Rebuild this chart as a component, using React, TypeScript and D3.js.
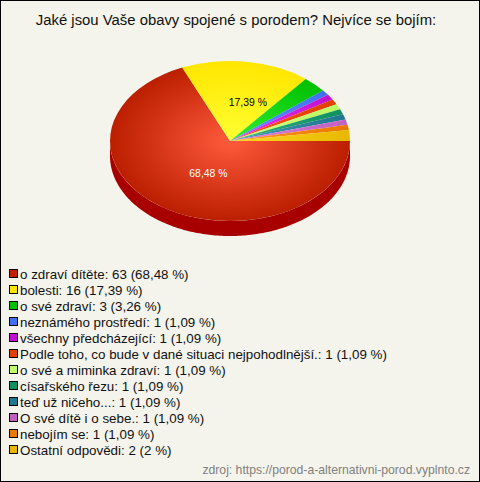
import React, { useEffect, useRef } from 'react';
import * as d3 from 'd3';

const title = 'Jaké jsou Vaše obavy spojené s porodem? Nejvíce se bojím:';
const source = 'zdroj: https://porod-a-alternativni-porod.vyplnto.cz';

const categories = [
  'o zdraví dítěte',
  'bolesti',
  'o své zdraví',
  'neznámého prostředí',
  'všechny předcházející',
  'Podle toho, co bude v dané situaci nejpohodlnější.',
  'o své a miminka zdraví',
  'císařského řezu',
  'teď už ničeho...',
  'O své dítě i o sebe.',
  'nebojím se',
  'Ostatní odpovědi',
];
const counts = [63, 16, 3, 1, 1, 1, 1, 1, 1, 1, 1, 2];
const percents = ['68,48', '17,39', '3,26', '1,09', '1,09', '1,09', '1,09', '1,09', '1,09', '1,09', '1,09', '2'];
const edgeColors = ['#bb1e00', '#ffe600', '#00c000', '#4070f0', '#c010d0', '#e04000', '#b8f860', '#109060', '#207890', '#c060c0', '#e87800', '#e8b800'];
const centerColors = ['#ff5a3c', '#ffff33', '#33ee33', '#6090ff', '#f030f0', '#ff5020', '#d8ff80', '#30b080', '#4098b0', '#e080e0', '#ff9820', '#ffd820'];
const legendColors = ['#c02000', '#ffe600', '#00c000', '#4070f0', '#c010d0', '#e04000', '#c0ff70', '#109060', '#207890', '#c060c0', '#e87800', '#e8b800'];

const App: React.FC = () => {
  const svgRef = useRef<SVGSVGElement>(null);

  useEffect(() => {
    if (!svgRef.current) return;
    document.body.style.margin = '0';

    const width = 480;
    const height = 482;
    const cx = 230;
    const cy = 141;
    const rx = 120;
    const ry = 80;
    const depth = 15;
    const font = '"Liberation Sans", Arial, sans-serif';

    const svg = d3.select(svgRef.current);
    svg.selectAll('*').remove();

    svg.append('rect')
      .attr('x', 0.5)
      .attr('y', 0.5)
      .attr('width', width - 1)
      .attr('height', height - 1)
      .attr('fill', '#f4f4ec')
      .attr('stroke', '#000');

    svg.append('text')
      .attr('x', 236)
      .attr('y', 25)
      .attr('text-anchor', 'middle')
      .attr('fill', '#111')
      .style('font-family', font)
      .style('font-size', '14.87px')
      .text(title);

    const defs = svg.append('defs');
    categories.forEach((_, i) => {
      const g = defs.append('radialGradient')
        .attr('id', `slice${i}`)
        .attr('gradientUnits', 'userSpaceOnUse')
        .attr('cx', 0)
        .attr('cy', 0)
        .attr('r', rx);
      g.append('stop').attr('offset', '0%').attr('stop-color', centerColors[i]);
      g.append('stop').attr('offset', '100%').attr('stop-color', edgeColors[i]);
    });

    const pie = d3.pie<number>()
      .sort(null)
      .startAngle(Math.PI / 2)
      .endAngle(Math.PI * 2.5);
    const arcs = pie(counts);

    // side of the cake, only the front half shows
    const side = d3.area<number>()
      .x(a => cx + rx * Math.cos(a))
      .y0(a => cy + ry * Math.sin(a))
      .y1(a => cy + ry * Math.sin(a) + depth);
    svg.append('path')
      .attr('d', side(d3.range(0, 181).map(d => d * Math.PI / 180)))
      .attr('fill', '#a80000');

    const arc = d3.arc<d3.PieArcDatum<number>>().innerRadius(0).outerRadius(rx);
    const top = svg.append('g')
      .attr('transform', `translate(${cx},${cy}) scale(1,${ry / rx})`);
    top.selectAll('path')
      .data(arcs)
      .join('path')
      .attr('d', arc)
      .attr('fill', (_, i) => `url(#slice${i})`);

    // labels only on the two big slices
    const labelArc = d3.arc<d3.PieArcDatum<number>>().innerRadius(rx * 0.48).outerRadius(rx * 0.48);
    svg.selectAll('text.pct')
      .data(arcs.slice(0, 2))
      .join('text')
      .attr('class', 'pct')
      .attr('x', d => cx + labelArc.centroid(d)[0] + 10)
      .attr('y', d => cy + labelArc.centroid(d)[1] * ry / rx + 3.5)
      .attr('text-anchor', 'middle')
      .attr('fill', (_, i) => (i === 0 ? '#fff' : '#000'))
      .style('font-family', font)
      .style('font-size', '10.4px')
      .text((_, i) => `${percents[i]} %`);

    const legendY = d3.scalePoint<number>()
      .domain(d3.range(categories.length))
      .range([274, 450]);
    const rows = svg.selectAll('g.row')
      .data(categories)
      .join('g')
      .attr('class', 'row')
      .attr('transform', (_, i) => `translate(0,${legendY(i)})`);
    rows.append('rect')
      .attr('x', 9.5)
      .attr('y', -4.5)
      .attr('width', 8)
      .attr('height', 8)
      .attr('fill', (_, i) => legendColors[i])
      .attr('stroke', '#000');
    rows.append('text')
      .attr('x', 20)
      .attr('y', 4.5)
      .attr('fill', '#111')
      .style('font-family', font)
      .style('font-size', '13.36px')
      .text((d, i) => `${d}: ${counts[i]} (${percents[i]} %)`);

    svg.append('text')
      .attr('x', 470)
      .attr('y', 474)
      .attr('text-anchor', 'end')
      .attr('fill', '#808080')
      .style('font-family', font)
      .style('font-size', '12.2px')
      .text(source);
  }, []);

  return <svg ref={svgRef} width={480} height={482} style={{ display: 'block' }} />;
};

export default App;
